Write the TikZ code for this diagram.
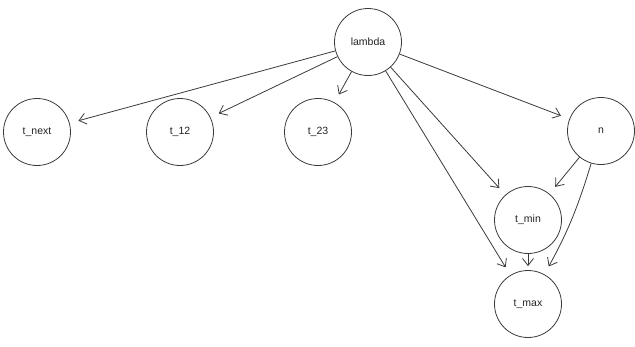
\documentclass[tikz,border=0pt]{standalone}
\usepackage{fontspec}
\setmainfont{Liberation Sans}
\usetikzlibrary{arrows.meta}
\definecolor{GraphLine}{HTML}{3A3A3A}
\definecolor{GraphText}{HTML}{222222}

\begin{document}
\begin{tikzpicture}[x=1pt,y=-1pt,>={Straight Barb[length=7pt,width=11pt]},
  varnode/.style={draw=GraphLine,circle,minimum size=67pt,inner sep=0pt,
    line width=0.8pt,font=\fontsize{10.5}{12}\selectfont,text=GraphText},
  dep/.style={->,GraphLine,line width=0.8pt,shorten >=9pt}]
  \useasboundingbox (0,0) rectangle (635,346);
  \node[varnode] (lambda) at (368,42) {lambda};
  \node[varnode] (tnext) at (37,132) {t\_next};
  \node[varnode] (t12) at (180,132) {t\_12};
  \node[varnode] (t23) at (318,132) {t\_23};
  \node[varnode] (n) at (601,131) {n};
  \node[varnode] (tmin) at (528,220) {t\_min};
  \node[varnode] (tmax) at (528,304) {t\_max};
  \draw[dep] (lambda) -- (tnext);
  \draw[dep] (lambda) -- (t12);
  \draw[dep] (lambda) -- (t23);
  \draw[dep] (lambda) -- (n);
  \draw[dep] (lambda) -- (tmin);
  \draw[dep] (lambda) -- (tmax);
  \draw[dep] (n) -- (tmin);
  \draw[dep] (n) to[bend left=6] (tmax);
  \draw[dep,shorten >=4pt] (tmin) -- (tmax);
\end{tikzpicture}
\end{document}
